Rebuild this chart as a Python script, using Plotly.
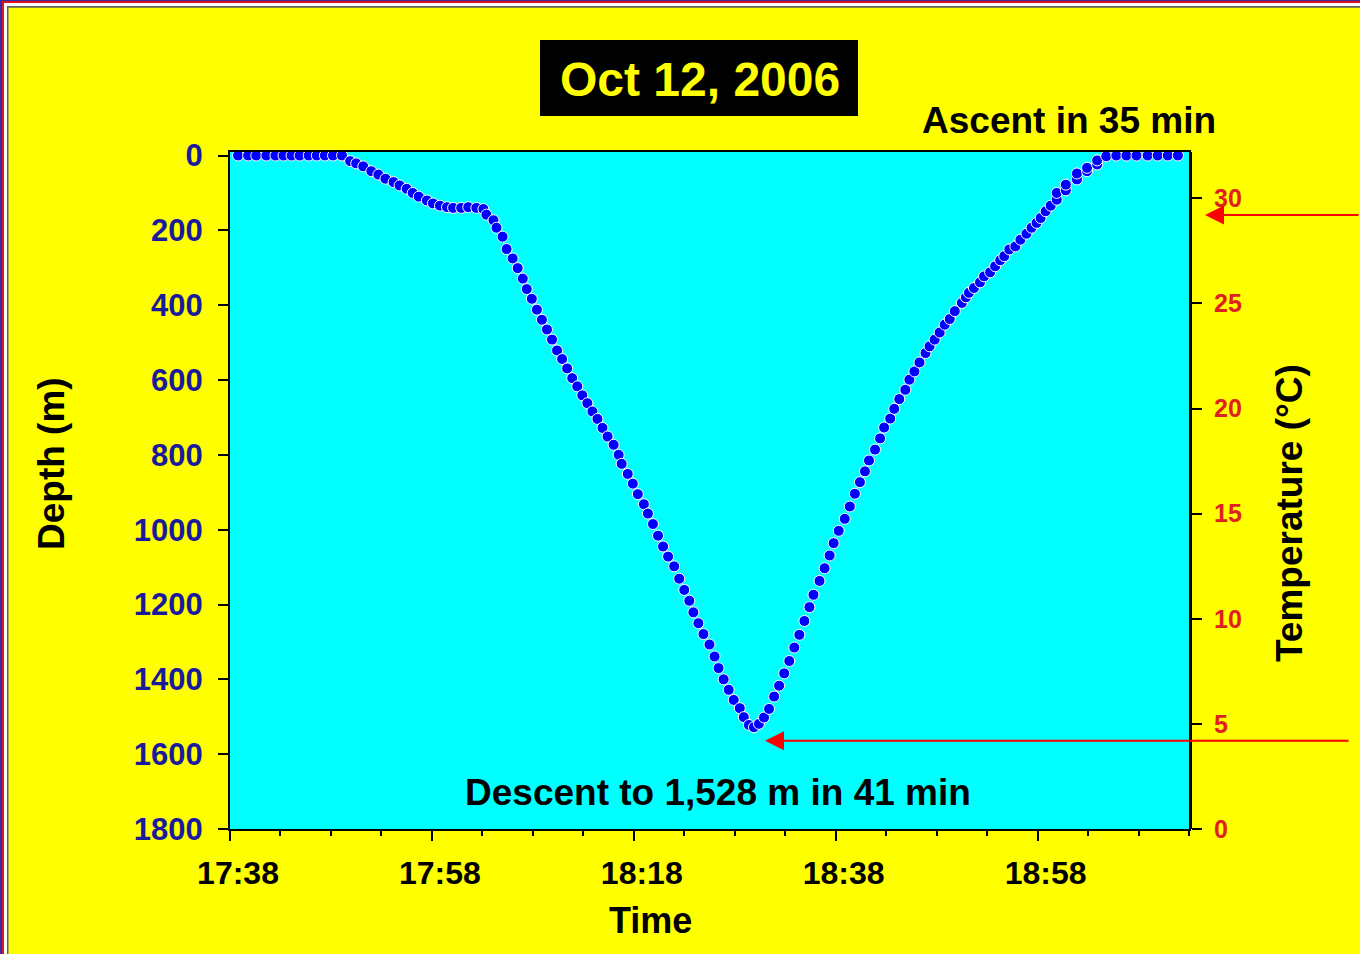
import pandas as pd
import plotly.graph_objects as go

# ---------------- data ----------------
start_time = "2006-10-12 17:38:00"

# minutes after 17:38 and depth (m)
surface_start_min = [0.8, 1.8, 2.6, 3.6, 4.5, 5.3, 6.1, 6.9, 7.8, 8.6, 9.4, 10.2, 11.1]
surface_start_depth = [0, 0, 0, 0, 0, 0, 0, 0, 0, 0, 0, 0, 0]

shelf_min = [11.9, 12.5, 13.2, 14.0, 14.7, 15.4, 16.2, 16.8, 17.5, 18.1,
             18.7, 19.5, 20.1, 20.8, 21.5, 22.1, 22.9, 23.6, 24.4, 25.1]
shelf_depth = [15, 21, 29, 42, 51, 62, 71, 80, 89, 100,
               110, 120, 128, 134, 138, 140, 140, 138, 140, 143]

descent_min = [25.4, 26.1, 26.4, 27.0, 27.4, 28.0, 28.5, 29.0, 29.4, 29.9,
               30.4, 30.9, 31.4, 31.9, 32.4, 32.9, 33.4, 33.9, 34.4, 34.9,
               35.4, 35.9, 36.4, 36.9, 37.4, 38.0, 38.5, 38.8, 39.4, 39.9,
               40.4, 41.0, 41.4, 41.9, 42.4, 42.9, 43.4, 44.0, 44.5, 45.0,
               45.5, 45.9, 46.4, 46.9, 47.5, 48.0, 48.4, 48.9, 49.4, 49.9,
               50.5, 50.9, 51.4, 51.9]
descent_depth = [158, 173, 193, 217, 250, 275, 301, 329, 357, 383,
                 412, 439, 465, 492, 521, 544, 569, 595, 617, 641,
                 662, 684, 704, 728, 751, 773, 800, 824, 851, 877,
                 905, 932, 957, 985, 1016, 1045, 1072, 1098, 1131, 1161,
                 1190, 1221, 1250, 1279, 1307, 1339, 1370, 1400, 1428, 1455,
                 1477, 1501, 1522, 1528]

ascent_min = [52.4, 52.9, 53.4, 53.9, 54.4, 54.9, 55.4, 55.9, 56.4, 56.9,
              57.4, 57.8, 58.4, 58.9, 59.4, 59.8, 60.3, 60.9, 61.4, 61.9,
              62.4, 62.9, 63.3, 63.9, 64.4, 64.8, 65.4, 65.8, 66.3, 66.9,
              67.3, 67.8, 68.3, 68.9, 69.3, 69.8, 70.3, 70.8, 71.3, 71.8,
              72.5, 72.9, 73.2, 73.7, 74.3, 74.7, 75.3, 75.8, 76.3, 76.7,
              77.2, 77.8, 78.3, 78.9, 79.4, 79.9, 80.3, 80.8, 81.3, 81.9,
              81.9, 82.8, 82.8, 83.9, 83.9, 84.9, 84.9, 85.9, 85.9, 86.8]
ascent_depth = [1519, 1502, 1479, 1446, 1417, 1384, 1351, 1315, 1281, 1244,
                1207, 1174, 1137, 1103, 1069, 1036, 1003, 971, 938, 904,
                873, 844, 815, 786, 756, 727, 703, 677, 651, 626,
                599, 577, 553, 528, 510, 492, 473, 452, 437, 416,
                394, 379, 367, 354, 339, 323, 312, 296, 280, 269,
                251, 243, 225, 209, 193, 180, 167, 149, 134, 118,
                100, 93, 78, 64, 48, 42, 33, 24, 13, 2]

surface_end_min = [87.8, 88.8, 89.8, 90.9, 91.9, 92.9, 93.9]
surface_end_depth = [0, 0, 0, 0, 0, 0, 0]

depth_ticks = [0, 200, 400, 600, 800, 1000, 1200, 1400, 1600, 1800]
temp_ticks = [0, 5, 10, 15, 20, 25, 30]
surface_temp = 29.2
bottom_temp = 4.2
x_span_min = 95

title_text = "Oct 12, 2006"
ascent_text = "Ascent in 35 min"
descent_text = "Descent to 1,528 m in 41 min"

# ---------------- build figure ----------------
W, H = 1360, 954
ML, MR, MT, MB = 230, 171, 152, 125
PW, PH = W - ML - MR, H - MT - MB


def px(x):
    return (x - ML) / PW


def py(y):
    return (H - MB - y) / PH


FONT = "Liberation Sans, Arial, sans-serif"
t0 = pd.Timestamp(start_time)
all_min = surface_start_min + shelf_min + descent_min + ascent_min + surface_end_min
all_depth = surface_start_depth + shelf_depth + descent_depth + ascent_depth + surface_end_depth
times = [t0 + pd.Timedelta(minutes=m) for m in all_min]

fig = go.Figure()
fig.add_trace(go.Scatter(
    x=times, y=all_depth, mode="markers",
    marker=dict(color="#0000FF", size=11, line=dict(color="white", width=1)),
    cliponaxis=False, showlegend=False, hoverinfo="skip",
))

fig.update_layout(
    width=W, height=H, autosize=False,
    margin=dict(l=ML, r=MR, t=MT, b=MB, pad=0),
    paper_bgcolor="#FFFF00", plot_bgcolor="#00FFFF",
    font=dict(family=FONT),
    showlegend=False,
    xaxis=dict(
        type="date",
        range=[t0, t0 + pd.Timedelta(minutes=x_span_min)],
        tick0=t0, dtick=20 * 60 * 1000, tickformat="%H:%M",
        ticks="outside", ticklen=10, tickwidth=2, tickcolor="black",
        minor=dict(tick0=t0, dtick=5 * 60 * 1000, ticks="outside", ticklen=5,
                   tickwidth=2, tickcolor="black", showgrid=False),
        showline=True, linewidth=2, linecolor="black", mirror=True,
        showgrid=False, zeroline=False,
        tickfont=dict(family=FONT, size=32, color="black", weight="bold"),
        ticklabelshift=8, ticklabelstandoff=5,
    ),
    yaxis=dict(
        range=[1800, -9.4], tickvals=depth_ticks,
        ticks="outside", ticklen=10, tickwidth=2, tickcolor="black",
        showline=True, linewidth=2, linecolor="black", mirror=True,
        showgrid=False, zeroline=False,
        tickfont=dict(family=FONT, size=31, color="#1a1a9c", weight="bold"),
        ticklabelstandoff=9,
    ),
    yaxis2=dict(
        overlaying="y", side="right", anchor="x",
        range=[0, 32.2], tickvals=temp_ticks,
        ticks="outside", ticklen=10, tickwidth=2, tickcolor="black",
        showline=True, linewidth=3, linecolor="black",
        showgrid=False, zeroline=False,
        tickfont=dict(family=FONT, size=25, color="#E02020", weight="bold"),
        ticklabelstandoff=7,
    ),
)

shapes = []
# frame bands on left and top edges
bands = [("#3030A0", 0, 2, 0, 1), ("#E01020", 2, 4, 1, 3),
         ("#FFFFFF", 4, 7, 3, 6), ("#606060", 7, 8.5, 6, 7.7)]
for col, xa, xb, ya, yb in bands:
    shapes.append(dict(type="rect", xref="paper", yref="paper",
                       x0=px(xa), x1=px(xb), y0=py(H + 5), y1=py(ya),
                       fillcolor=col, line=dict(width=0), layer="above"))
    shapes.append(dict(type="rect", xref="paper", yref="paper",
                       x0=px(xa), x1=px(W + 5), y0=py(yb), y1=py(ya),
                       fillcolor=col, line=dict(width=0), layer="above"))
# title box
shapes.append(dict(type="rect", xref="paper", yref="paper",
                   x0=px(540), x1=px(858), y0=py(116), y1=py(40),
                   fillcolor="black", line=dict(width=0)))
fig.update_layout(shapes=shapes)

ann = []
ann.append(dict(text=title_text, xref="paper", yref="paper", x=px(700), y=py(79),
                showarrow=False, xanchor="center", yanchor="middle",
                font=dict(family=FONT, size=48, color="#FFFF00", weight="bold")))
ann.append(dict(text=ascent_text, xref="paper", yref="paper", x=px(1069), y=py(121),
                showarrow=False, xanchor="center", yanchor="middle",
                font=dict(family=FONT, size=37, color="black", weight="bold")))
ann.append(dict(text=descent_text, xref="paper", yref="paper", x=px(718), y=py(792),
                showarrow=False, xanchor="center", yanchor="middle",
                font=dict(family=FONT, size=37, color="black", weight="bold")))
ann.append(dict(text="Depth (m)", xref="paper", yref="paper", x=px(51), y=py(464),
                showarrow=False, xanchor="center", yanchor="middle", textangle=-90,
                font=dict(family=FONT, size=37, color="black", weight="bold")))
ann.append(dict(text="Temperature (°C)", xref="paper", yref="paper", x=px(1289), y=py(513),
                showarrow=False, xanchor="center", yanchor="middle", textangle=-90,
                font=dict(family=FONT, size=37, color="black", weight="bold")))
ann.append(dict(text="Time", xref="paper", yref="paper", x=px(650), y=py(920),
                showarrow=False, xanchor="center", yanchor="middle",
                font=dict(family=FONT, size=36, color="black", weight="bold")))
# temperature arrows
ann.append(dict(text="", xref="paper", yref="y2", x=px(1205), y=surface_temp,
                showarrow=True, ax=155, ay=0, arrowhead=2, arrowsize=1.9,
                arrowwidth=2, arrowcolor="#FF0000"))
ann.append(dict(text="", xref="paper", yref="y2", x=px(765), y=bottom_temp,
                showarrow=True, ax=585, ay=0, arrowhead=2, arrowsize=1.9,
                arrowwidth=2, arrowcolor="#FF0000"))
fig.update_layout(annotations=ann)

fig.write_html("out.html", config={"displayModeBar": False},
               post_script="document.body.style.margin='0';document.body.style.overflow='hidden';")
